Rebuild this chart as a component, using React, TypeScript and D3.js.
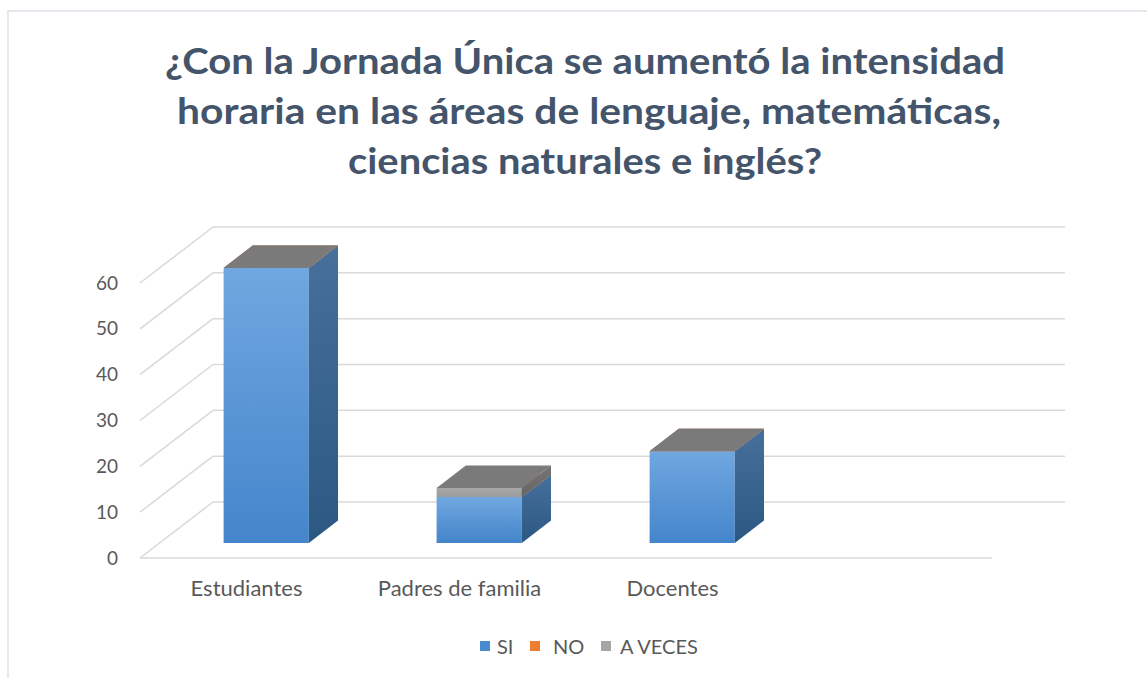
import React from "react";
import * as d3 from "d3";

const titleLines = [
  "¿Con la Jornada Única se aumentó la intensidad",
  "horaria en las áreas de lenguaje, matemáticas,",
  "ciencias naturales e inglés?",
];
const categories = ["Estudiantes", "Padres de familia", "Docentes", ""];
const seriesNames = ["SI", "NO", "A VECES"];
const siValues = [60, 10, 20, 0];
const noValues = [0, 0, 0, 0];
const aVecesValues = [0, 2, 0, 0];
const yTicks = [0, 10, 20, 30, 40, 50, 60];

const W = 1147;
const H = 678;
const DX = 73;
const DY = -56;
const D0 = 0.27;
const D1 = 0.67;

const colors: Record<string, { front: [string, string]; side: [string, string]; top: string; legend: string }> = {
  SI: { front: ["#70a7e0", "#4485cb"], side: ["#47709b", "#2b5883"], top: "#5b8fc8", legend: "#4a8ad0" },
  NO: { front: ["#f29152", "#e06f22"], side: ["#b25a20", "#8e4617"], top: "#ed7d31", legend: "#ed7d31" },
  "A VECES": { front: ["#a9a9a9", "#9a9a9a"], side: ["#747474", "#666666"], top: "#7a7a7a", legend: "#a5a5a5" },
};

export default function App() {
  const x = d3.scaleBand<string>().domain(categories).range([140, 992]).paddingInner(0.6).paddingOuter(0.3);
  const y = d3.scaleLinear().domain([0, 60]).range([558, 283]);

  const valuesBySeries: Record<string, number[]> = { SI: siValues, NO: noValues, "A VECES": aVecesValues };
  const rows = categories.map((c, i) => {
    const r: any = { cat: c };
    seriesNames.forEach((s) => (r[s] = valuesBySeries[s][i]));
    return r;
  });
  const stacked = d3.stack<any>().keys(seriesNames)(rows);

  const P = (px: number, d: number, v: number): [number, number] => [px + d * DX, y(v) + d * DY];
  const poly = (pts: [number, number][]) => pts.map((p) => p.join(",")).join(" ");

  const x0 = x.range()[0];
  const x1 = x.range()[1];

  const faces: React.ReactNode[] = [];
  categories.forEach((c, ci) => {
    const bx0 = x(c)!;
    const bx1 = bx0 + x.bandwidth();
    stacked.forEach((layer) => {
      const s = layer.key;
      const [v0, v1] = layer[ci];
      if (c === "") return;
      const id = s.replace(" ", "_");
      const front = [P(bx0, D0, v1), P(bx1, D0, v1), P(bx1, D0, v0), P(bx0, D0, v0)];
      const side = [P(bx1, D0, v1), P(bx1, D1, v1), P(bx1, D1, v0), P(bx1, D0, v0)];
      const top = [P(bx0, D0, v1), P(bx0, D1, v1), P(bx1, D1, v1), P(bx1, D0, v1)];
      if (v1 > v0) {
        faces.push(<polygon key={`f${ci}${s}`} points={poly(front)} fill={`url(#gf_${id})`} />);
        faces.push(<polygon key={`s${ci}${s}`} points={poly(side)} fill={`url(#gs_${id})`} />);
      }
      faces.push(<polygon key={`t${ci}${s}`} points={poly(top)} fill={colors[s].top} />);
    });
  });

  const legendItems = [
    { s: "SI", sx: 480, tx: 497 },
    { s: "NO", sx: 530, tx: 553 },
    { s: "A VECES", sx: 601, tx: 620 },
  ];

  return (
    <svg width={W} height={H} style={{ position: "absolute", left: 0, top: 0 }} fontFamily="Lato, 'Open Sans', sans-serif">
      <defs>
        {seriesNames.map((s) => {
          const id = s.replace(" ", "_");
          return (
            <React.Fragment key={id}>
              <linearGradient id={`gf_${id}`} x1="0" y1="0" x2="0" y2="1">
                <stop offset="0" stopColor={colors[s].front[0]} />
                <stop offset="1" stopColor={colors[s].front[1]} />
              </linearGradient>
              <linearGradient id={`gs_${id}`} x1="0" y1="0" x2="0" y2="1">
                <stop offset="0" stopColor={colors[s].side[0]} />
                <stop offset="1" stopColor={colors[s].side[1]} />
              </linearGradient>
            </React.Fragment>
          );
        })}
      </defs>
      <rect x={0} y={0} width={W} height={H} fill="#ffffff" />
      <rect x={8} y={11} width={W + 10} height={H + 10} fill="none" stroke="#dedee6" strokeWidth={1.5} />

      {titleLines.map((t, i) => {
        const spans = [
          [165, 1005],
          [177, 1001],
          [348, 822],
        ][i];
        return (
          <text
            key={i}
            x={spans[0]}
            y={74 + i * 50}
            fontSize={36}
            fontWeight={700}
            fill="#44546a"
            textLength={spans[1] - spans[0]}
            lengthAdjust="spacingAndGlyphs"
          >
            {t}
          </text>
        );
      })}

      {yTicks.map((t) => {
        const a = P(x0, 0, t);
        const b = P(x0, 1, t);
        const c = P(x1, 1, t);
        return (
          <g key={t}>
            <line x1={a[0]} y1={a[1]} x2={b[0]} y2={b[1]} stroke="#d9d9d9" strokeWidth={1.5} />
            <line x1={b[0]} y1={b[1]} x2={c[0]} y2={c[1]} stroke="#d9d9d9" strokeWidth={1.5} />
          </g>
        );
      })}
      {(() => {
        const a = P(x0, 0, 0);
        const b = P(x1, 0, 0);
        return <line x1={a[0]} y1={a[1]} x2={b[0]} y2={b[1]} stroke="#d9d9d9" strokeWidth={1.5} />;
      })()}

      {yTicks.map((t) => (
        <text key={t} x={118} y={y(t)} dy="0.35em" textAnchor="end" fontSize={19} fill="#595959">
          {t}
        </text>
      ))}

      {faces}

      {categories.map((c) =>
        c ? (
          <text key={c} x={x(c)! + x.bandwidth() / 2} y={596} textAnchor="middle" fontSize={22} fill="#595959">
            {c}
          </text>
        ) : null
      )}

      {legendItems.map((l) => (
        <g key={l.s}>
          <rect x={l.sx} y={641} width={10} height={10} fill={colors[l.s].legend} />
          <text x={l.tx} y={654} fontSize={20} fill="#595959">
            {l.s}
          </text>
        </g>
      ))}
    </svg>
  );
}
